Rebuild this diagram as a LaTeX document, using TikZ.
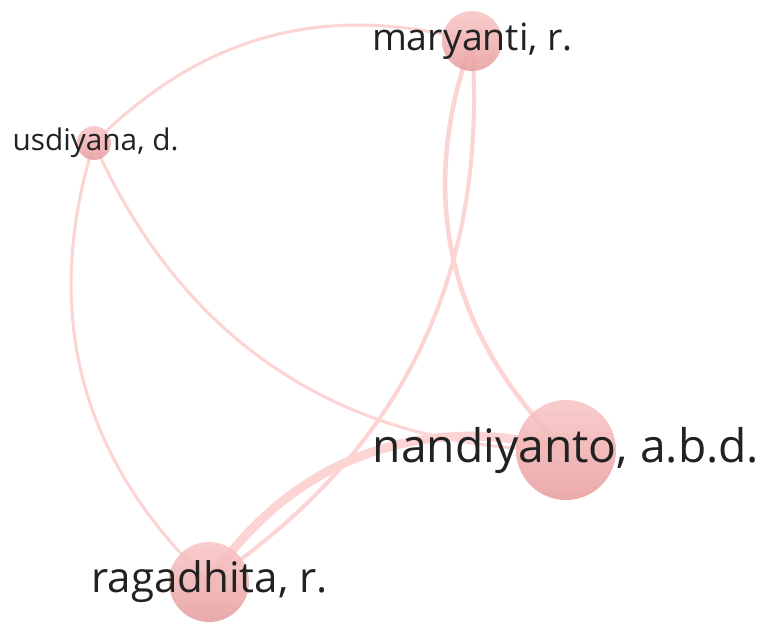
\documentclass[tikz,border=0pt]{standalone}
\usepackage{fontspec}
\setmainfont{Open Sans}
\definecolor{edgecol}{RGB}{253,212,212}
\definecolor{nodetop}{RGB}{249,198,198}
\definecolor{nodebot}{RGB}{232,158,160}
\definecolor{labelcol}{RGB}{34,34,34}
\tikzset{
  link/.style={draw=edgecol, line width=#1, line cap=round},
  bubble/.style={circle, inner sep=0pt, minimum size=#1, top color=nodetop, bottom color=nodebot, fill opacity=0.88, draw=none},
  lbl/.style={text=labelcol, inner sep=0pt, anchor=center}
}
\begin{document}
\begin{tikzpicture}[x=1pt,y=1pt]
\path[use as bounding box] (0,0) rectangle (761,-622);
\fill[white] (0,0) rectangle (761,-622);
\coordinate (mar) at (472,-41);
\coordinate (usd) at (94,-143);
\coordinate (nan) at (566,-450);
\coordinate (rag) at (209,-582);
% links
\draw[link=3pt] (usd) to[bend left=30] (mar);
\draw[link=3pt] (usd) to[bend right=32] (rag);
\draw[link=3pt] (usd) to[bend right=33] (nan);
\draw[link=4.5pt] (mar) to[bend right=33] (nan);
\draw[link=4pt] (mar) to[bend left=30] (rag);
\draw[link=9pt] (nan) to[bend right=36] (rag);
% bubbles
\node[bubble=60pt] (marc) at (mar) {};
\node[bubble=34pt] (usdc) at (usd) {};
\node[bubble=100pt] (nanc) at (nan) {};
\node[bubble=80pt] (ragc) at (rag) {};
% labels
\node[lbl, font=\fontsize{37.5}{41}\selectfont] (marl) at (472.5,-41) {maryanti, r.};
\node[lbl, font=\fontsize{29.8}{33}\selectfont] (usdl) at (95.5,-143) {usdiyana, d.};
\node[lbl, font=\fontsize{46.2}{51}\selectfont] (nanl) at (566,-450) {nandiyanto, a.b.d.};
\node[lbl, font=\fontsize{42.1}{46}\selectfont] (ragl) at (209.5,-582) {ragadhita, r.};
\end{tikzpicture}
\end{document}
